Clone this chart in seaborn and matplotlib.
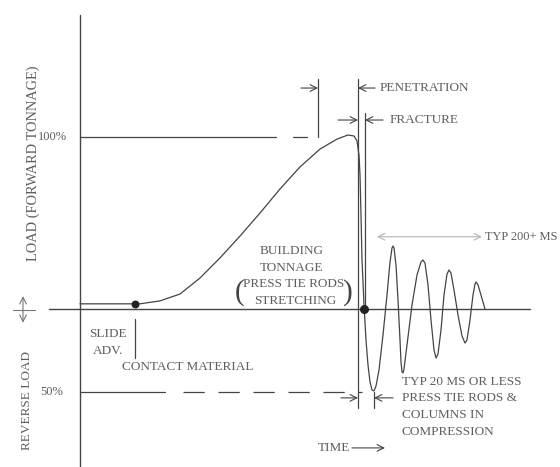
import numpy as np
import pandas as pd
import matplotlib
matplotlib.use("Agg")
import matplotlib.pyplot as plt
import seaborn as sns

# Load trace (time in arbitrary units, load in % of forward tonnage)
time = [0, 60, 80, 100, 120, 140, 160, 180, 200, 220, 240, 257, 268, 274, 277,
        279, 280, 281, 282, 284, 286, 288, 290, 292, 294, 296, 299, 303, 307,
        310, 312, 313, 314, 316, 318, 320, 321, 322, 323, 324, 327, 332, 337,
        341, 343, 345, 348, 351, 354, 356, 358, 361, 364, 367, 369, 371, 374,
        378, 382, 385, 387, 390, 393, 395, 396, 398, 401, 405]
load = [3, 3, 4.7, 8.7, 18.0, 29.7, 42.4, 55.8, 69.8, 82.6, 93.0, 98.8, 101.2,
        100.6, 97.7, 89.5, 77.9, 54.7, 28.5, 2.3, -18, -32.6, -42.4, -47.1,
        -47.7, -44.8, -35.5, -15.1, 8.1, 27.3, 35.5, 36.6, 35.5, 25.6, 5.2,
        -18, -30.8, -36.6, -37.2, -34.9, -20.9, 2.3, 19.8, 27.3, 28.5, 26.7,
        14, -6.4, -23.8, -28.5, -26.2, -12.2, 8.1, 20.3, 22.7, 20.9, 11, -3.5,
        -15.7, -19.8, -18, -6.4, 8.1, 14.5, 15.7, 14, 8.1, 0]

contact_point = (55, 3)
fracture_point = (284, 0)
forward_level = 100
reverse_level = -48
penetration_t = 278
fracture_t = 285
start_t = 238
reverse_peak_t = 294

df = pd.DataFrame({"time": time, "load": load})

sns.set_theme(style="white")
plt.rcParams["font.family"] = ["Liberation Serif", "DejaVu Serif"]

fig = plt.figure(figsize=(5.6, 4.67), dpi=100)
ax = fig.add_axes([0, 0, 1, 1])
ax.set_xlim(-80, 480)
ax.set_ylim(-91.9, 179.7)
ax.axis("off")

LC = "#444444"
TC = "#5e5e5e"
FS = 9.5

# axes of the diagram
ax.plot([0, 0], [171, -92], color=LC, lw=1)
ax.plot([-31, 450], [0, 0], color=LC, lw=1)

# load trace
sns.lineplot(data=df, x="time", y="load", ax=ax, color=LC, lw=0.9, sort=False)
ax.scatter(*contact_point, s=22, color="#222222", zorder=5)
ax.scatter(*fracture_point, s=30, color="#222222", zorder=5)

# 100% reference
ax.plot([0, 196], [forward_level] * 2, color=LC, lw=0.9)
ax.plot([213, 227], [forward_level] * 2, color=LC, lw=0.9)
# 50% reverse reference
ax.plot([0, 85], [reverse_level] * 2, color=LC, lw=0.9)
ax.plot([103, 282], [reverse_level] * 2, color=LC, lw=0.9,
        linestyle=(0, (17, 11)))

# dimension lines
ax.plot([start_t, start_t], [100, 133.7], color=LC, lw=0.9)
ax.plot([penetration_t, penetration_t], [133.7, -57.6], color=LC, lw=0.9)
ax.plot([fracture_t, fracture_t], [113.9, 0], color=LC, lw=0.9)
ax.plot([reverse_peak_t, reverse_peak_t], [-48, -57.6], color=LC, lw=0.9)
ax.plot([55, 55], [-5.8, -28.5], color=LC, lw=0.9)


def arrow(x0, x1, y, style="->", color=LC):
    ax.annotate("", xy=(x1, y), xytext=(x0, y),
                arrowprops=dict(arrowstyle=style, color=color, lw=0.8,
                                shrinkA=0, shrinkB=0))


arrow(221, start_t, 128.5)
arrow(295, penetration_t, 128.5)
arrow(258, penetration_t, 109.9)
arrow(303, fracture_t, 109.9)
arrow(261, penetration_t, -51.7)
arrow(313, reverse_peak_t, -51.7)
arrow(272, 305, -80.8)
arrow(297, 402, 42, style="<->", color="#b5b5b5")

# left-side symbol
ax.annotate("", xy=(-57, 7.5), xytext=(-57, -8),
            arrowprops=dict(arrowstyle="<->", color="#777777", lw=0.8,
                            shrinkA=0, shrinkB=0))
ax.plot([-67, -45], [-0.5, -0.5], color="#777777", lw=0.8)

# labels
ax.text(-47, 85, "LOAD (FORWARD TONNAGE)", rotation=90, ha="center",
        va="center", color=TC, fontsize=10.4)
ax.text(-53, -53, "REVERSE LOAD", rotation=90, ha="center", va="center",
        color=TC, fontsize=FS)
ax.text(-28, 100, "100%", ha="center", va="center", color=TC, fontsize=FS - 0.5)
ax.text(-28, -48, "50%", ha="center", va="center", color=TC, fontsize=FS - 0.5)
ax.text(28, -14.5, "SLIDE", ha="center", va="center", color=TC, fontsize=FS)
ax.text(28, -24.4, "ADV.", ha="center", va="center", color=TC, fontsize=FS)
ax.text(42, -33.7, "CONTACT MATERIAL", ha="left", va="center", color=TC,
        fontsize=FS)
ax.text(212, 33.7, "BUILDING", ha="center", va="center", color=TC, fontsize=FS)
ax.text(212, 23.8, "TONNAGE", ha="center", va="center", color=TC, fontsize=FS)
ax.text(214, 14.5, "PRESS TIE RODS", ha="center", va="center", color=TC,
        fontsize=FS)
ax.text(215, 4.7, "STRETCHING", ha="center", va="center", color=TC,
        fontsize=FS)
ax.text(160, 9.3, "(", ha="center", va="center", color=LC, fontsize=21)
ax.text(268, 9.3, ")", ha="center", va="center", color=LC, fontsize=21)
ax.text(300, 128.5, "PENETRATION", ha="left", va="center", color=TC,
        fontsize=FS)
ax.text(310, 109.9, "FRACTURE", ha="left", va="center", color=TC, fontsize=FS)
ax.text(405, 42, "TYP 200+ MS", ha="left", va="center", color=TC, fontsize=8.9)
for txt, yy in zip(["TYP 20 MS OR LESS", "PRESS TIE RODS &", "COLUMNS IN",
                    "COMPRESSION"], [-42.4, -51.7, -61.6, -71.5]):
    ax.text(322, yy, txt, ha="left", va="center", color=TC, fontsize=FS)
ax.text(238, -80.8, "TIME", ha="left", va="center", color=TC, fontsize=FS)

fig.savefig("out.png", dpi=100)
